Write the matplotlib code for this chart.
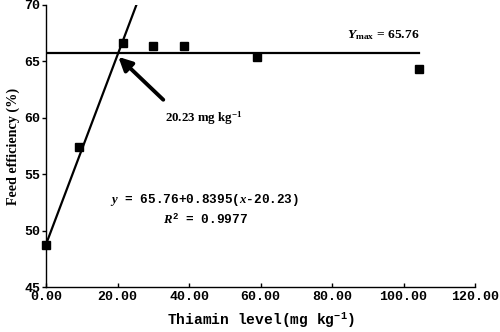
"""Feed efficiency vs dietary thiamin level, broken-line regression."""
import matplotlib

matplotlib.use("Agg")
import matplotlib.pyplot as plt

# observed means
thiamin = [0.0, 9.3, 21.4, 29.8, 38.5, 58.9, 104.3]
feed_eff = [48.7, 57.4, 66.6, 66.4, 66.4, 65.4, 64.3]

# broken-line fit
Y_MAX = 65.76
SLOPE = 0.8395
BREAK = 20.23
R2 = 0.9977

x_ticks = [0, 20, 40, 60, 80, 100, 120]
y_ticks = [45, 50, 55, 60, 65, 70]

MONO = "Liberation Mono"
SERIF = "Liberation Serif"

plt.rcParams["mathtext.fontset"] = "custom"
plt.rcParams["mathtext.rm"] = f"{MONO}:bold"
plt.rcParams["mathtext.it"] = f"{SERIF}:italic:bold"
plt.rcParams["mathtext.bf"] = f"{SERIF}:bold"
plt.rcParams["mathtext.bfit"] = f"{SERIF}:italic:bold"

fig = plt.figure(figsize=(5.0, 3.32), dpi=100)
ax = fig.add_axes([0.092, 0.1355, 0.858, 0.8495])

ax.plot(thiamin, feed_eff, "s", color="black", markersize=5.2, zorder=3, clip_on=False)

# rising segment, clipped at top of axes
x_top = BREAK + (70 - Y_MAX) / SLOPE
ax.plot([0, x_top], [Y_MAX - SLOPE * BREAK, 70], color="black", linewidth=1.6)
# plateau
ax.plot([0, thiamin[-1]], [Y_MAX, Y_MAX], color="black", linewidth=1.6)

ax.annotate(
    "",
    xy=(BREAK, 65.4),
    xytext=(32.8, 61.6),
    arrowprops=dict(arrowstyle="-|>,head_length=0.8,head_width=0.4",
                    color="black", linewidth=2.8, shrinkA=0, shrinkB=0),
)
ax.text(33.4, 60.0, r"20.23 mg kg$^{\mathbf{-1}}$", family=SERIF, weight="bold",
        fontsize=9.3, va="center", ha="left")
ax.text(84.3, 67.35, rf"$\mathbfit{{Y}}_{{\mathbf{{max}}}}$ = {Y_MAX:.2f}", family=SERIF,
        weight="bold", fontsize=9.7, va="center", ha="left")

ax.text(44.3, 52.75, rf"$y$ = {Y_MAX:.2f}+{SLOPE}($x$-{BREAK:.2f})", family=MONO,
        weight="bold", fontsize=9.2, va="center", ha="center")
ax.text(44.6, 51.0, rf"$R^2$ = {R2}", family=MONO, weight="bold", fontsize=9.2,
        va="center", ha="center")

ax.set_xlim(0, 120)
ax.set_ylim(45, 70)
ax.set_xticks(x_ticks)
ax.set_xticklabels([f"{v:.2f}" for v in x_ticks], family=MONO, weight="bold", fontsize=9.5)
ax.set_yticks(y_ticks)
ax.set_yticklabels([str(v) for v in y_ticks], family=MONO, weight="bold", fontsize=9.5)
ax.tick_params(axis="x", direction="in", length=3, width=1, pad=3)
ax.tick_params(axis="y", direction="out", length=3, width=1, pad=1)

for side in ("top", "right"):
    ax.spines[side].set_visible(False)
for side in ("left", "bottom"):
    ax.spines[side].set_linewidth(1.0)

ax.set_xlabel(r"Thiamin level(mg kg$^{-1}$)", family=MONO, weight="bold", fontsize=10.5,
              labelpad=6)
ax.set_ylabel("Feed efficiency (%)", family=SERIF, weight="bold", fontsize=10.2, labelpad=3)

fig.savefig("out.png", dpi=100)
